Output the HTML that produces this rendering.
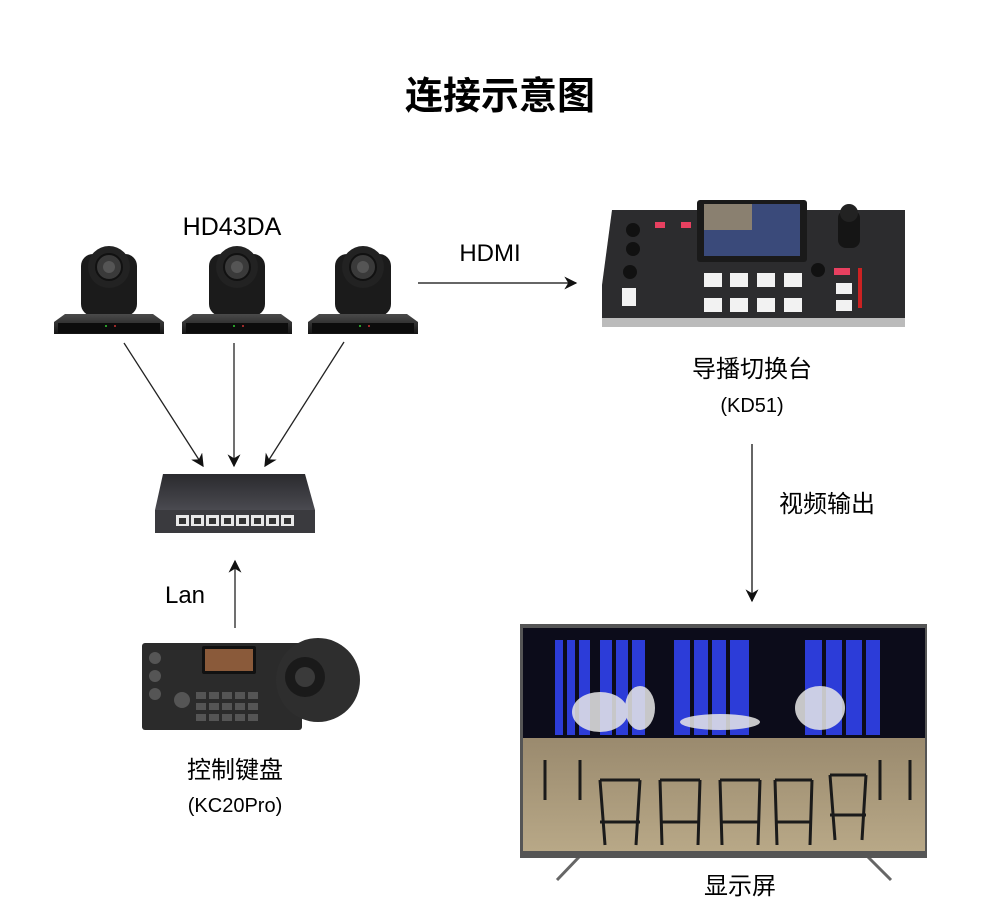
<!DOCTYPE html>
<html><head><meta charset="utf-8"><style>
html,body{margin:0;padding:0;background:#fff;width:1000px;height:918px;overflow:hidden}
svg text{font-family:"Liberation Sans","Noto Sans CJK SC",sans-serif;fill:#000}
</style></head><body>
<svg width="1000" height="918" viewBox="0 0 1000 918" xmlns="http://www.w3.org/2000/svg">
<defs>
<marker id="ah" viewBox="0 0 10 10" refX="9" refY="5" markerWidth="13" markerHeight="13" orient="auto-start-reverse" markerUnits="userSpaceOnUse"><path d="M0,0 L10,5 L0,10 L3,5 z" fill="#111"/></marker>
<linearGradient id="cam" x1="0" y1="0" x2="0" y2="1"><stop offset="0" stop-color="#4a4a4a"/><stop offset="1" stop-color="#151515"/></linearGradient>
<linearGradient id="sw" x1="0" y1="0" x2="0" y2="1"><stop offset="0" stop-color="#2a2a2e"/><stop offset="1" stop-color="#4a4a50"/></linearGradient>
<linearGradient id="floor" x1="0" y1="0" x2="0" y2="1"><stop offset="0" stop-color="#9a8a6e"/><stop offset="1" stop-color="#b8a887"/></linearGradient>
<g id="camera">
 <rect x="-28" y="-58" width="56" height="62" rx="12" fill="#1b1b1b"/>
 <circle cx="0" cy="-45" r="21" fill="#222"/>
 <circle cx="0" cy="-45" r="13" fill="#3a3a3a" stroke="#111" stroke-width="2"/>
 <circle cx="0" cy="-45" r="6" fill="#555"/>
 <path d="M-44,2 L44,2 L55,10 L55,22 L-55,22 L-55,10 Z" fill="url(#cam)"/>
 <rect x="-51" y="11" width="102" height="10" fill="#0c0c0c"/>
 <circle cx="-3" cy="14" r="1" fill="#3c3"/><circle cx="6" cy="14" r="1" fill="#c33"/>
</g>
</defs>

<text x="500" y="109" font-size="38" font-weight="bold" text-anchor="middle">连接示意图</text>

<text x="232" y="235" font-size="25" text-anchor="middle">HD43DA</text>
<use href="#camera" x="109" y="312"/>
<use href="#camera" x="237" y="312"/>
<use href="#camera" x="363" y="312"/>

<line x1="124" y1="343" x2="203" y2="466" stroke="#222" stroke-width="1.3" marker-end="url(#ah)"/>
<line x1="234" y1="343" x2="234" y2="466" stroke="#222" stroke-width="1.3" marker-end="url(#ah)"/>
<line x1="344" y1="342" x2="265" y2="466" stroke="#222" stroke-width="1.3" marker-end="url(#ah)"/>

<path d="M163,474 L305,474 L315,510 L155,510 Z" fill="url(#sw)"/>
<rect x="155" y="510" width="160" height="23" fill="#3a3a3e"/>
<g fill="#e8e8e8">
 <rect x="176" y="515" width="13" height="11"/><rect x="191" y="515" width="13" height="11"/><rect x="206" y="515" width="13" height="11"/><rect x="221" y="515" width="13" height="11"/><rect x="236" y="515" width="13" height="11"/><rect x="251" y="515" width="13" height="11"/><rect x="266" y="515" width="13" height="11"/><rect x="281" y="515" width="13" height="11"/>
</g>
<g fill="#333"><rect x="179" y="518" width="7" height="6"/><rect x="194" y="518" width="7" height="6"/><rect x="209" y="518" width="7" height="6"/><rect x="224" y="518" width="7" height="6"/><rect x="239" y="518" width="7" height="6"/><rect x="254" y="518" width="7" height="6"/><rect x="269" y="518" width="7" height="6"/><rect x="284" y="518" width="7" height="6"/></g>

<line x1="235" y1="628" x2="235" y2="561" stroke="#222" stroke-width="1.3" marker-end="url(#ah)"/>
<text x="185" y="603" font-size="24" text-anchor="middle">Lan</text>

<rect x="142" y="643" width="160" height="87" rx="3" fill="#2b2b2b"/>
<rect x="202" y="646" width="54" height="28" rx="2" fill="#111"/>
<rect x="205" y="649" width="48" height="22" fill="#8a5a3a"/>
<g fill="#555">
 <circle cx="155" cy="658" r="6"/><circle cx="155" cy="676" r="6"/><circle cx="155" cy="694" r="6"/><circle cx="182" cy="700" r="8"/>
 <rect x="196" y="692" width="10" height="7"/><rect x="209" y="692" width="10" height="7"/><rect x="222" y="692" width="10" height="7"/><rect x="235" y="692" width="10" height="7"/><rect x="248" y="692" width="10" height="7"/>
 <rect x="196" y="703" width="10" height="7"/><rect x="209" y="703" width="10" height="7"/><rect x="222" y="703" width="10" height="7"/><rect x="235" y="703" width="10" height="7"/><rect x="248" y="703" width="10" height="7"/>
 <rect x="196" y="714" width="10" height="7"/><rect x="209" y="714" width="10" height="7"/><rect x="222" y="714" width="10" height="7"/><rect x="235" y="714" width="10" height="7"/><rect x="248" y="714" width="10" height="7"/>
</g>
<circle cx="318" cy="680" r="42" fill="#2e2e2e"/>
<circle cx="305" cy="677" r="20" fill="#1a1a1a"/>
<circle cx="305" cy="677" r="10" fill="#3a3a3a"/>
<text x="235" y="778" font-size="24" text-anchor="middle">控制键盘</text>
<text x="235" y="812" font-size="20" text-anchor="middle">(KC20Pro)</text>

<text x="490" y="261" font-size="24" text-anchor="middle">HDMI</text>
<line x1="418" y1="283" x2="576" y2="283" stroke="#333" stroke-width="1.5" marker-end="url(#ah)"/>

<path d="M612,210 L905,210 L905,318 L602,318 L602,285 Z" fill="#2c2c2e"/>
<rect x="602" y="318" width="303" height="9" fill="#bbb"/>
<rect x="697" y="200" width="110" height="62" rx="3" fill="#1a1a1a"/>
<rect x="704" y="204" width="96" height="52" fill="#3a4a7a"/>
<rect x="704" y="204" width="48" height="26" fill="#8a8070"/>
<g fill="#f2f2f2">
 <rect x="704" y="273" width="18" height="14"/><rect x="730" y="273" width="18" height="14"/><rect x="757" y="273" width="18" height="14"/><rect x="784" y="273" width="18" height="14"/>
 <rect x="704" y="298" width="18" height="14"/><rect x="730" y="298" width="18" height="14"/><rect x="757" y="298" width="18" height="14"/><rect x="784" y="298" width="18" height="14"/>
 <rect x="836" y="283" width="16" height="11"/><rect x="836" y="300" width="16" height="11"/>
 <rect x="622" y="288" width="14" height="18"/>
</g>
<g fill="#e84060"><rect x="655" y="222" width="10" height="6"/><rect x="681" y="222" width="10" height="6"/><rect x="834" y="268" width="16" height="7"/></g>
<circle cx="633" cy="230" r="7" fill="#111"/><circle cx="633" cy="249" r="7" fill="#111"/><circle cx="630" cy="272" r="7" fill="#111"/><circle cx="818" cy="270" r="7" fill="#111"/>
<rect x="838" y="210" width="22" height="38" rx="8" fill="#151515"/>
<circle cx="849" cy="213" r="9" fill="#222"/>
<rect x="858" y="268" width="4" height="40" fill="#c22"/>
<text x="752" y="377" font-size="24" text-anchor="middle">导播切换台</text>
<text x="752" y="412" font-size="20" text-anchor="middle">(KD51)</text>

<line x1="752" y1="444" x2="752" y2="601" stroke="#333" stroke-width="1.5" marker-end="url(#ah)"/>
<text x="827" y="512" font-size="24" text-anchor="middle">视频输出</text>

<line x1="580" y1="856" x2="557" y2="880" stroke="#666" stroke-width="3"/>
<line x1="867" y1="856" x2="891" y2="880" stroke="#666" stroke-width="3"/>
<rect x="520" y="624" width="407" height="234" fill="#555"/>
<rect x="523" y="628" width="402" height="223" fill="#0c0c1a"/>
<g fill="#2c3cd8">
 <rect x="555" y="640" width="35" height="95"/><rect x="600" y="640" width="45" height="95"/>
 <rect x="674" y="640" width="75" height="95"/><rect x="805" y="640" width="75" height="95"/>
</g>
<g fill="#0c0c1a"><rect x="563" y="640" width="4" height="95"/><rect x="575" y="640" width="4" height="95"/><rect x="612" y="640" width="4" height="95"/><rect x="628" y="640" width="4" height="95"/><rect x="690" y="640" width="4" height="95"/><rect x="708" y="640" width="4" height="95"/><rect x="726" y="640" width="4" height="95"/><rect x="822" y="640" width="4" height="95"/><rect x="842" y="640" width="4" height="95"/><rect x="862" y="640" width="4" height="95"/></g>
<rect x="523" y="738" width="402" height="113" fill="url(#floor)"/>
<g fill="#e8e8e8" opacity="0.85"><ellipse cx="600" cy="712" rx="28" ry="20"/><ellipse cx="640" cy="708" rx="15" ry="22"/><ellipse cx="820" cy="708" rx="25" ry="22"/><ellipse cx="720" cy="722" rx="40" ry="8"/></g>
<g stroke="#1a1a1a" stroke-width="3" fill="none">
 <path d="M600,780 L605,845 M640,780 L636,845 M600,780 L640,780 M600,822 L640,822"/>
 <path d="M660,780 L662,845 M700,780 L698,845 M660,780 L700,780 M660,822 L700,822"/>
 <path d="M720,780 L722,845 M760,780 L758,845 M720,780 L760,780 M720,822 L760,822"/>
 <path d="M775,780 L777,845 M812,780 L810,845 M775,780 L812,780 M775,822 L812,822"/>
 <path d="M830,775 L835,840 M866,775 L862,840 M830,775 L866,775 M830,815 L866,815"/>
 <path d="M545,760 L545,800 M580,760 L580,800 M880,760 L880,800 M910,760 L910,800"/>
</g>
<text x="740" y="894" font-size="24" text-anchor="middle">显示屏</text>
</svg>
</body></html>
